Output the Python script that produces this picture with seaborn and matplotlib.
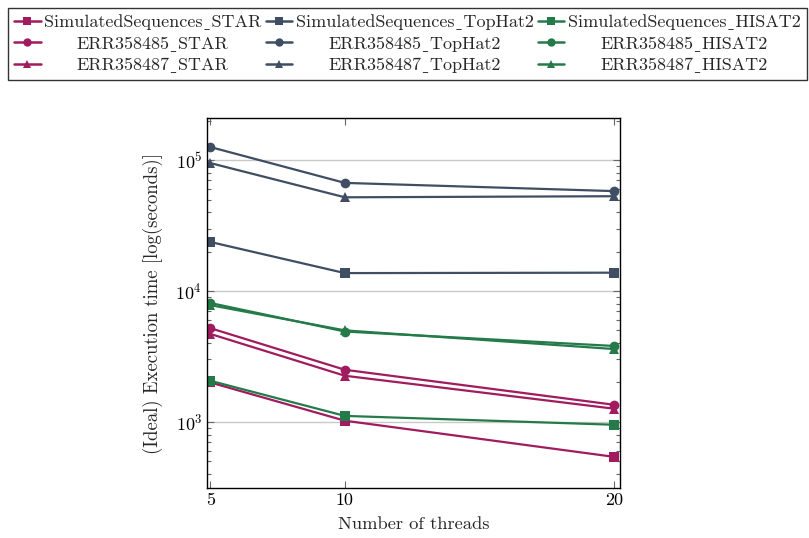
import matplotlib
matplotlib.use("Agg")
import matplotlib.pyplot as plt
import matplotlib.ticker as mticker
from matplotlib.lines import Line2D
from matplotlib.transforms import Bbox
import seaborn as sns
import pandas as pd

threads = [5, 10, 20]
tools = ["STAR", "TopHat2", "HISAT2"]
datasets = ["SimulatedSequences", "ERR358485", "ERR358487"]

star_sim = [2000, 1020, 540]
star_485 = [5200, 2500, 1350]
star_487 = [4700, 2250, 1260]
tophat_sim = [23700, 13700, 13800]
tophat_485 = [126000, 67000, 58000]
tophat_487 = [95000, 52000, 53000]
hisat_sim = [2060, 1110, 950]
hisat_485 = [8100, 4900, 3800]
hisat_487 = [7800, 5000, 3600]

series = {
    ("STAR", "SimulatedSequences"): star_sim,
    ("STAR", "ERR358485"): star_485,
    ("STAR", "ERR358487"): star_487,
    ("TopHat2", "SimulatedSequences"): tophat_sim,
    ("TopHat2", "ERR358485"): tophat_485,
    ("TopHat2", "ERR358487"): tophat_487,
    ("HISAT2", "SimulatedSequences"): hisat_sim,
    ("HISAT2", "ERR358485"): hisat_485,
    ("HISAT2", "ERR358487"): hisat_487,
}

rows = []
for (tool, ds), vals in series.items():
    for t, v in zip(threads, vals):
        rows.append({"threads": t, "time": v, "tool": tool, "dataset": ds})
df = pd.DataFrame(rows)

sns.set_theme(style="ticks")
plt.rcParams["font.family"] = ["cmr10", "DejaVu Serif", "DejaVu Sans"]
plt.rcParams["mathtext.fontset"] = "cm"
plt.rcParams["axes.formatter.use_mathtext"] = True

colors = {"STAR": "#A01C5E", "TopHat2": "#404E63", "HISAT2": "#257A4A"}
markers = {"SimulatedSequences": "s", "ERR358485": "o", "ERR358487": "^"}
US = "\u02cd"  # low line glyph (cmr10 has no underscore)

fig = plt.figure(figsize=(8.09, 5.38), dpi=100)
ax = fig.add_axes([0.2559, 0.0929, 0.5105, 0.6878])

sns.lineplot(data=df, x="threads", y="time", hue="tool", style="dataset",
             palette=colors, markers=markers, dashes=False,
             hue_order=tools, style_order=datasets,
             markersize=7, linewidth=1.6, markeredgewidth=0,
             legend=False, ax=ax, sort=True)

ax.set_yscale("log")
ax.set_xlim(4.88, 20.22)
ax.set_ylim(312, 2.1e5)
ax.set_xticks(threads)
ax.set_xticklabels([str(t) for t in threads])
ax.yaxis.set_minor_locator(mticker.LogLocator(base=10, subs=range(2, 10)))
ax.yaxis.set_minor_formatter(mticker.NullFormatter())
ax.tick_params(axis="both", which="both", direction="in", top=True, right=True,
               labelsize=13, colors="#666666", labelcolor="black")
ax.tick_params(axis="both", which="major", length=5, width=0.8)
ax.tick_params(axis="y", which="minor", length=3, width=0.8)
ax.grid(axis="y", which="major", color="#c8c8c8", linewidth=1)
for s in ax.spines.values():
    s.set_color("black")
    s.set_linewidth(1)

ax.set_xlabel("Number of threads", fontsize=13.3, labelpad=6)
ax.set_ylabel("(Ideal) Execution time [log(seconds)]", fontsize=13.5, labelpad=9)

handles, labels = [], []
for tool in tools:
    for ds in datasets:
        handles.append(Line2D([0], [0], color=colors[tool], marker=markers[ds],
                              markersize=6, linewidth=1.8, markeredgewidth=0))
        labels.append(f"{ds}{US}{tool}")

leg = fig.legend(handles, labels, ncol=3, loc="upper left",
                 bbox_to_anchor=(0.0099, 0.985), frameon=True, fancybox=False,
                 edgecolor="black", fontsize=13.0, handlelength=1.45,
                 handletextpad=0.2, columnspacing=0.25, borderpad=0.35,
                 labelspacing=0.33, borderaxespad=0)
leg.get_frame().set_linewidth(1)

# center label text within each legend column (as in the reference)
renderer = fig.canvas.get_renderer()
for col in leg._legend_handle_box.get_children():
    items = col.get_children()
    tas = [it.get_children()[1] for it in items]
    W = max(ta._text.get_window_extent(renderer).width for ta in tas)
    for ta in tas:
        ta._text.set_ha("center")
        orig = ta.get_bbox

        def nb(rend, orig=orig, W=W):
            b = orig(rend)
            return Bbox.from_bounds(-W / 2, b.y0, W, b.height)

        ta.get_bbox = nb

fig.savefig("out.png", dpi=100)
